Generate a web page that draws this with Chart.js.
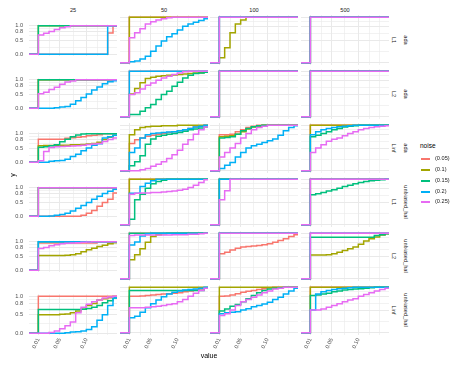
<!DOCTYPE html>
<html><head><meta charset="utf-8">
<script src="https://cdn.jsdelivr.net/npm/chart.js@4/dist/chart.umd.min.js"></script>
<style>
html,body{margin:0;padding:0;background:#fff;}
#root{position:relative;width:459px;height:366px;overflow:hidden;font-family:"Liberation Sans",Arial,sans-serif;}
canvas{position:absolute;}
.t{position:absolute;white-space:nowrap;line-height:1;transform-origin:center center;}
</style></head><body><div id="root"></div>
<script>
// ---------- data ----------
const sampleSizes = ['25', '50', '100', '500'];
const rowNorms = ['L1', 'L2', 'Linf', 'L1', 'L2', 'Linf'];
const rowMethods = ['ada', 'ada', 'ada', 'unbiased_hal', 'unbiased_hal', 'unbiased_hal'];
const noiseLabels = ['(0.05)', '(0.1)', '(0.15)', '(0.2)', '(0.25)'];
const noiseColors = ['#F8766D', '#A3A500', '#00BF7D', '#00B0F6', '#E76BF3'];
const pLevels = [0.01, 0.02, 0.03, 0.04, 0.05, 0.06, 0.07, 0.08, 0.09, 0.10, 0.11, 0.12, 0.13, 0.14, 0.15];
const xBreaks = [0.01, 0.05, 0.10];
const xBreakLabels = ['0.01', '0.05', '0.10'];
const xMinorBreaks = [0.03, 0.075, 0.12, 0.14];
const yBreaks = [0, 0.5, 0.8, 1];
const yBreakLabels = ['0.0', '0.5', '0.8', '1.0'];
const yMinorBreaks = [0.25, 0.65, 0.9];
const ALL_ONE = [1, 1, 1, 1, 1, 1, 1, 1, 1, 1, 1, 1, 1, 1, 1];

// ECDF values at pLevels, series order: (0.05), (0.1), (0.15), (0.2), (0.25); null = not present
const ada_L1_25 = [
  [0, 0, 0, 0, 0, 0, 0, 0, 0, 0, 0, 0, 0, 0.75, 1],
  ALL_ONE,
  ALL_ONE,
  [0, 0, 0, 0, 0, 0, 0, 0, 0, 0, 0, 0, 0, 1, 1],
  [0.68, 0.74, 0.8, 0.87, 0.93, 0.97, 1, 1, 1, 1, 1, 1, 1, 1, 1]];
const ada_L1_50 = [
  ALL_ONE,
  ALL_ONE,
  null,
  [0.02, 0.04, 0.08, 0.14, 0.25, 0.37, 0.48, 0.57, 0.64, 0.72, 0.8, 0.85, 0.89, 0.93, 0.97],
  [0.55, 0.66, 0.75, 0.85, 0.9, 0.94, 0.97, 0.99, 1, 1, 1, 1, 1, 1, 1]];
const ada_L1_100 = [
  ALL_ONE,
  [0.11, 0.33, 0.66, 0.85, 0.94, 1, 1, 1, 1, 1, 1, 1, 1, 1, 1],
  ALL_ONE,
  ALL_ONE,
  ALL_ONE];
const ada_L1_500 = [ALL_ONE, ALL_ONE, ALL_ONE, ALL_ONE, ALL_ONE];

const ada_L2_25 = [
  ALL_ONE,
  ALL_ONE,
  ALL_ONE,
  [0, 0, 0, 0.02, 0.04, 0.06, 0.14, 0.26, 0.38, 0.5, 0.64, 0.75, 0.86, 0.93, 0.97],
  [0.51, 0.56, 0.66, 0.74, 0.84, 0.92, 0.96, 1, 1, 1, 1, 1, 1, 1, 1]];
const ada_L2_50 = [
  ALL_ONE,
  [0.5, 0.62, 0.75, 0.84, 0.87, 0.89, 0.9, 0.91, 0.92, 0.93, 0.94, 0.95, 0.96, 0.97, 0.98],
  [0.05, 0.05, 0.12, 0.2, 0.27, 0.38, 0.49, 0.56, 0.67, 0.76, 0.85, 0.91, 0.95, 0.96, 0.98],
  ALL_ONE,
  [0.49, 0.53, 0.61, 0.69, 0.74, 0.8, 0.85, 0.89, 0.93, 0.96, 0.99, 1, 1, 1, 1]];
const ada_L2_100 = [ALL_ONE, ALL_ONE, ALL_ONE, ALL_ONE, ALL_ONE];
const ada_L2_500 = [ALL_ONE, ALL_ONE, ALL_ONE, ALL_ONE, ALL_ONE];

const ada_Linf_25 = [
  [0.81, 0.81, 0.81, 0.81, 0.81, 0.84, 0.86, 0.88, 0.9, 0.93, 0.95, 0.97, 1, 1, 1],
  [0.58, 0.59, 0.59, 0.6, 0.6, 0.6, 0.61, 0.61, 0.62, 0.64, 0.66, 0.7, 0.8, 0.88, 0.95],
  [0.53, 0.54, 0.58, 0.61, 0.72, 0.81, 0.9, 0.96, 0.99, 1, 1, 1, 1, 1, 1],
  [0, 0, 0.03, 0.05, 0.06, 0.1, 0.2, 0.28, 0.4, 0.5, 0.6, 0.65, 0.85, 0.9, 0.95],
  [0.05, 0.38, 0.52, 0.54, 0.55, 0.56, 0.57, 0.58, 0.6, 0.62, 0.64, 0.66, 0.73, 0.8, 0.85]];
const ada_Linf_50 = [
  [0.6, 0.68, 0.72, 0.76, 0.78, 0.8, 0.82, 0.84, 0.86, 0.88, 0.9, 0.93, 0.96, 0.98, 1],
  [0.79, 0.9, 0.95, 0.97, 0.98, 0.98, 0.99, 0.99, 0.99, 1, 1, 1, 1, 1, 1],
  [0.11, 0.2, 0.33, 0.58, 0.7, 0.76, 0.78, 0.8, 0.82, 0.84, 0.87, 0.9, 0.92, 0.94, 0.96],
  [0.4, 0.5, 0.72, 0.79, 0.82, 0.83, 0.84, 0.85, 0.86, 0.88, 0.9, 0.93, 0.96, 0.98, 1],
  [0, 0, 0.02, 0.05, 0.1, 0.14, 0.2, 0.27, 0.35, 0.45, 0.58, 0.68, 0.8, 0.9, 0.96]];
const ada_Linf_100 = [
  [0.79, 0.79, 0.8, 0.86, 0.9, 0.95, 0.98, 1, 1, 1, 1, 1, 1, 1, 1],
  [0.75, 0.76, 0.77, 0.8, 0.86, 0.92, 0.96, 0.98, 1, 1, 1, 1, 1, 1, 1],
  [0.72, 0.73, 0.75, 0.8, 0.88, 0.93, 0.97, 0.99, 1, 1, 1, 1, 1, 1, 1],
  [0.05, 0.12, 0.18, 0.3, 0.4, 0.5, 0.55, 0.58, 0.62, 0.66, 0.7, 0.78, 0.88, 0.95, 0.99],
  [0.3, 0.4, 0.5, 0.6, 0.72, 0.82, 0.9, 0.95, 0.98, 1, 1, 1, 1, 1, 1]];
const ada_Linf_500 = [
  ALL_ONE,
  ALL_ONE,
  [0.75, 0.78, 0.82, 0.86, 0.9, 0.93, 0.96, 0.98, 0.99, 1, 1, 1, 1, 1, 1],
  [0.79, 0.86, 0.9, 0.93, 0.95, 0.97, 0.98, 0.99, 1, 1, 1, 1, 1, 1, 1],
  [0.4, 0.5, 0.57, 0.65, 0.69, 0.72, 0.77, 0.82, 0.86, 0.9, 0.93, 0.95, 0.97, 0.98, 0.99]];

const hal_L1_25 = [
  [0, 0, 0, 0, 0, 0, 0, 0, 0.03, 0.1, 0.2, 0.35, 0.48, 0.6, 0.82],
  ALL_ONE,
  ALL_ONE,
  [0, 0, 0.01, 0.03, 0.06, 0.1, 0.18, 0.28, 0.38, 0.48, 0.6, 0.7, 0.8, 0.88, 0.95],
  ALL_ONE];
const hal_L1_50 = [
  ALL_ONE,
  ALL_ONE,
  [0.12, 0.55, 0.67, 0.8, 0.9, 0.95, 0.98, 1, 1, 1, 1, 1, 1, 1, 1],
  [0.69, 0.69, 0.84, 0.91, 0.97, 1, 1, 1, 1, 1, 1, 1, 1, 1, 1],
  [0.67, 0.69, 0.7, 0.7, 0.71, 0.71, 0.72, 0.73, 0.74, 0.76, 0.78, 0.82, 0.87, 0.93, 0.99]];
const hal_L1_100 = [
  ALL_ONE,
  ALL_ONE,
  ALL_ONE,
  ALL_ONE,
  [0.55, 0.75, 1, 1, 1, 1, 1, 1, 1, 1, 1, 1, 1, 1, 1]];
const hal_L1_500 = [
  ALL_ONE,
  ALL_ONE,
  [0.66, 0.68, 0.71, 0.74, 0.77, 0.8, 0.84, 0.87, 0.9, 0.93, 0.95, 0.97, 0.98, 0.99, 1],
  ALL_ONE,
  ALL_ONE];

const hal_L2_25 = [
  [0.96, 0.96, 0.96, 0.96, 0.96, 0.96, 0.96, 0.96, 0.96, 0.96, 0.96, 1, 1, 1, 1],
  [0.52, 0.52, 0.52, 0.52, 0.52, 0.53, 0.54, 0.58, 0.65, 0.72, 0.77, 0.83, 0.88, 0.93, 0.97],
  ALL_ONE,
  ALL_ONE,
  [0.76, 0.8, 0.86, 0.9, 0.93, 0.95, 0.96, 0.97, 0.98, 0.99, 1, 1, 1, 1, 1]];
const hal_L2_50 = [
  ALL_ONE,
  [0.42, 0.53, 0.66, 0.8, 0.93, 0.97, 0.99, 1, 1, 1, 1, 1, 1, 1, 1],
  ALL_ONE,
  [0.74, 0.81, 0.94, 0.99, 1, 1, 1, 1, 1, 1, 1, 1, 1, 1, 1],
  [0.95, 0.96, 0.96, 0.96, 0.96, 0.96, 0.96, 0.96, 0.97, 0.97, 0.97, 0.98, 0.98, 0.99, 1]];
const hal_L2_100 = [
  [0.55, 0.58, 0.63, 0.67, 0.7, 0.71, 0.72, 0.73, 0.75, 0.77, 0.8, 0.84, 0.88, 0.93, 0.97],
  ALL_ONE,
  ALL_ONE,
  ALL_ONE,
  ALL_ONE];
const hal_L2_500 = [
  ALL_ONE,
  [0.52, 0.52, 0.52, 0.53, 0.55, 0.58, 0.62, 0.66, 0.7, 0.76, 0.83, 0.88, 0.92, 0.96, 0.99],
  [0.91, 0.91, 0.91, 0.91, 0.91, 0.91, 0.91, 0.91, 0.91, 0.91, 0.91, 0.91, 0.95, 0.97, 0.99],
  ALL_ONE,
  ALL_ONE];

const hal_Linf_25 = [
  ALL_ONE,
  [0.5, 0.5, 0.5, 0.5, 0.51, 0.52, 0.55, 0.6, 0.65, 0.75, 0.8, 0.9, 0.93, 0.96, 0.99],
  [0.64, 0.64, 0.64, 0.64, 0.64, 0.64, 0.64, 0.64, 0.65, 0.67, 0.7, 0.75, 0.82, 0.88, 0.95],
  [0, 0, 0, 0, 0, 0.01, 0.03, 0.04, 0.06, 0.1, 0.17, 0.35, 0.5, 0.75, 0.95],
  [0, 0, 0.02, 0.06, 0.12, 0.2, 0.3, 0.55, 0.7, 0.78, 0.85, 0.9, 0.95, 0.98, 1]];
const hal_Linf_50 = [
  [0.8, 0.8, 0.81, 0.82, 0.83, 0.84, 0.85, 0.86, 0.87, 0.88, 0.9, 0.92, 0.94, 0.96, 0.98],
  ALL_ONE,
  [0.93, 0.93, 0.93, 0.93, 0.93, 0.93, 0.93, 0.93, 0.93, 0.93, 0.93, 0.93, 0.93, 0.93, 0.99],
  [0.33, 0.36, 0.45, 0.55, 0.64, 0.72, 0.79, 0.85, 0.89, 0.92, 0.94, 0.95, 0.96, 0.98, 1],
  [0.55, 0.55, 0.55, 0.56, 0.57, 0.58, 0.6, 0.62, 0.64, 0.68, 0.73, 0.8, 0.87, 0.93, 0.98]];
const hal_Linf_100 = [
  [0.8, 0.81, 0.83, 0.86, 0.89, 0.91, 0.93, 0.95, 0.97, 0.99, 1, 1, 1, 1, 1],
  ALL_ONE,
  [0.48, 0.52, 0.58, 0.62, 0.68, 0.75, 0.82, 0.88, 0.93, 0.96, 0.98, 0.99, 1, 1, 1],
  [0.42, 0.44, 0.45, 0.46, 0.5, 0.53, 0.57, 0.6, 0.63, 0.67, 0.73, 0.78, 0.85, 0.92, 0.98],
  [0.38, 0.42, 0.5, 0.6, 0.68, 0.73, 0.78, 0.83, 0.88, 0.92, 0.96, 0.98, 1, 1, 1]];
const hal_Linf_500 = [
  ALL_ONE,
  ALL_ONE,
  [0.82, 0.83, 0.85, 0.87, 0.9, 0.92, 0.94, 0.95, 0.96, 0.97, 0.98, 0.99, 1, 1, 1],
  [0.5, 0.85, 0.9, 0.93, 0.95, 0.97, 0.98, 0.99, 1, 1, 1, 1, 1, 1, 1],
  [0.5, 0.5, 0.52, 0.56, 0.6, 0.64, 0.68, 0.72, 0.75, 0.8, 0.84, 0.88, 0.92, 0.95, 0.98]];

const panels = [
  [ada_L1_25, ada_L1_50, ada_L1_100, ada_L1_500],
  [ada_L2_25, ada_L2_50, ada_L2_100, ada_L2_500],
  [ada_Linf_25, ada_Linf_50, ada_Linf_100, ada_Linf_500],
  [hal_L1_25, hal_L1_50, hal_L1_100, hal_L1_500],
  [hal_L2_25, hal_L2_50, hal_L2_100, hal_L2_500],
  [hal_Linf_25, hal_Linf_50, hal_Linf_100, hal_Linf_500]];

// ---------- layout ----------
const X_MIN = -0.0075, X_MAX = 0.1575, Y_MIN = -0.05, Y_MAX = 1.05;
const COL_LEFT = [29, 120, 210, 301];
const ROW_TOP = [15, 69, 123, 177, 231, 285];
const PANEL_W = 88, PANEL_H = 50;
const Y_AXIS_W = 29, X_AXIS_H = 31;
const FONT = '"Liberation Sans", Arial, sans-serif';
const GRID = '#E9E9E9';
const LINE_W = 1.5;

const root = document.getElementById('root');

function addText(txt, x, y, size, color, rot, extra) {
  const d = document.createElement('div');
  d.className = 't';
  d.textContent = txt;
  d.style.left = x + 'px';
  d.style.top = y + 'px';
  d.style.fontSize = size + 'px';
  d.style.color = color;
  d.style.transform = 'translate(-50%,-50%)' + (rot ? ' rotate(' + rot + 'deg)' : '');
  if (extra) Object.assign(d.style, extra);
  root.appendChild(d);
  return d;
}

const xGridVals = xBreaks.concat(xMinorBreaks).sort((a, b) => a - b);
const yGridVals = yBreaks.concat(yMinorBreaks).sort((a, b) => a - b);
const isXMajor = v => xBreaks.some(b => Math.abs(b - v) < 1e-9);
const isYMajor = v => yBreaks.some(b => Math.abs(b - v) < 1e-9);

function makePanel(r, c) {
  const series = panels[r][c];
  const isLeft = c === 0, isBottom = r === panels.length - 1;
  const w = PANEL_W + (isLeft ? Y_AXIS_W : 0);
  const h = PANEL_H + (isBottom ? X_AXIS_H : 0);
  const cv = document.createElement('canvas');
  cv.width = w; cv.height = h;
  cv.style.width = w + 'px'; cv.style.height = h + 'px';
  cv.style.left = (COL_LEFT[c] - (isLeft ? Y_AXIS_W : 0)) + 'px';
  cv.style.top = ROW_TOP[r] + 'px';
  root.appendChild(cv);

  const datasets = [];
  series.forEach((vals, i) => {
    if (!vals) return;
    const pts = [{x: X_MIN, y: 0}];
    vals.forEach((v, k) => pts.push({x: pLevels[k], y: v}));
    pts.push({x: X_MAX, y: vals[vals.length - 1]});
    datasets.push({
      label: noiseLabels[i], data: pts, borderColor: noiseColors[i],
      borderWidth: LINE_W, pointRadius: 0, stepped: true, fill: false,
      order: noiseLabels.length - 1 - i
    });
  });

  new Chart(cv, {
    type: 'line',
    data: {datasets},
    options: {
      responsive: false, animation: false, devicePixelRatio: 1, events: [],
      layout: {padding: 0},
      plugins: {legend: {display: false}, tooltip: {enabled: false}},
      scales: {
        x: {
          type: 'linear', min: X_MIN, max: X_MAX,
          border: {display: false},
          grid: {drawTicks: false, color: GRID,
                 lineWidth: ctx => (ctx.tick && isXMajor(ctx.tick.value)) ? 1 : 0.6},
          ticks: {display: isBottom, autoSkip: false, minRotation: 65, maxRotation: 65,
                  padding: 2, color: '#4D4D4D', font: {size: 5.6, family: FONT},
                  callback: v => { const i = xBreaks.findIndex(b => Math.abs(b - v) < 1e-9); return i >= 0 ? xBreakLabels[i] : ''; }},
          afterBuildTicks: s => { s.ticks = xGridVals.map(v => ({value: v})); },
          afterFit: s => { s.height = isBottom ? X_AXIS_H : 0; }
        },
        y: {
          type: 'linear', min: Y_MIN, max: Y_MAX,
          border: {display: false},
          grid: {drawTicks: false, color: GRID,
                 lineWidth: ctx => (ctx.tick && isYMajor(ctx.tick.value)) ? 1 : 0.6},
          ticks: {display: isLeft, autoSkip: false, padding: 6, color: '#4D4D4D',
                  font: {size: 5.6, family: FONT},
                  callback: v => { const i = yBreaks.findIndex(b => Math.abs(b - v) < 1e-9); return i >= 0 ? yBreakLabels[i] : ''; }},
          afterBuildTicks: s => { s.ticks = yGridVals.map(v => ({value: v})); },
          afterFit: s => { s.width = isLeft ? Y_AXIS_W : 0; }
        }
      }
    }
  });
}

for (let r = 0; r < panels.length; r++)
  for (let c = 0; c < sampleSizes.length; c++) makePanel(r, c);

// column strips
sampleSizes.forEach((s, c) => addText(s, COL_LEFT[c] + PANEL_W / 2, 11, 5.6, '#1A1A1A'));
// row strips
rowNorms.forEach((s, r) => {
  const cy = ROW_TOP[r] + PANEL_H / 2;
  addText(s, 393, cy, 5.6, '#1A1A1A', 90);
  addText(rowMethods[r], 404.5, cy, 5.6, '#1A1A1A', 90);
});
// axis titles
addText('y', 11.5, 175, 7, '#000', -90);
addText('value', 209, 355, 7, '#000');

// legend
addText('noise', 420, 146, 6.5, '#000', 0, {transform: 'translate(0,-50%)'});
const LEG_Y = [159, 170, 181, 192, 202];
noiseLabels.forEach((lab, i) => {
  const k = document.createElement('div');
  k.style.position = 'absolute';
  k.style.left = '421px';
  k.style.width = '9px';
  k.style.top = (LEG_Y[i] - 1) + 'px';
  k.style.height = '2px';
  k.style.background = noiseColors[i];
  root.appendChild(k);
  addText(lab, 435, LEG_Y[i], 5.6, '#1A1A1A', 0, {transform: 'translate(0,-50%)'});
});
</script></body></html>
